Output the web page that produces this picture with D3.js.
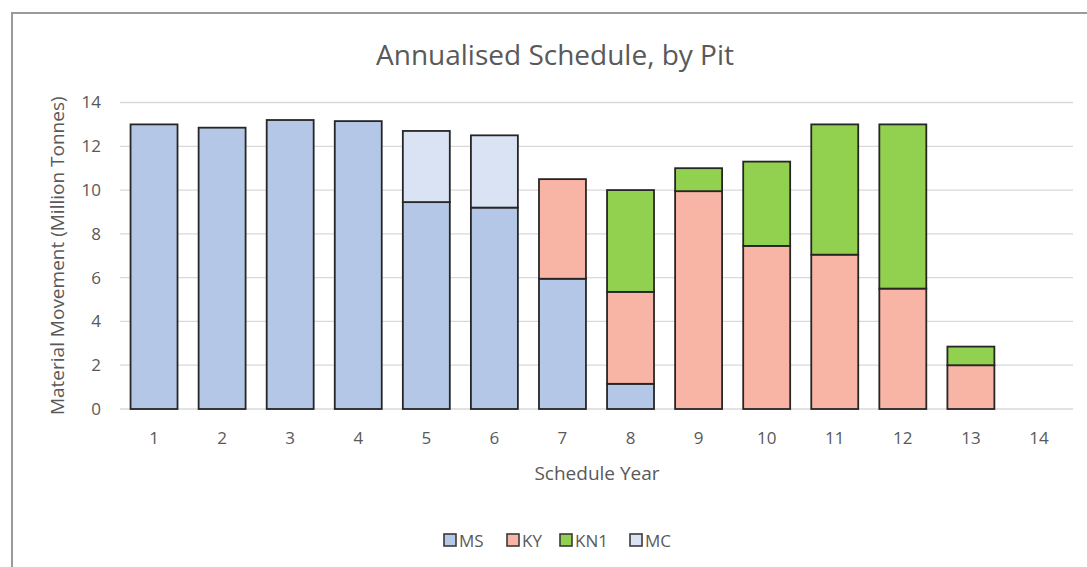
<!DOCTYPE html>
<html>
<head>
<meta charset="utf-8">
<script src="https://cdn.jsdelivr.net/npm/d3@7"></script>
<style>
  body { margin: 0; background: #fff; }
  text { font-family: "Open Sans", sans-serif; fill: #595959; }
</style>
</head>
<body>
<script>
const width = 1087;
const height = 567;

// data
const years = ["1","2","3","4","5","6","7","8","9","10","11","12","13","14"];
const pits = ["MS", "KY", "KN1", "MC"];
const msVals  = [13.0, 12.85, 13.2, 13.15, 9.45, 9.2, 5.95, 1.15, 0, 0, 0, 0, 0, 0];
const kyVals  = [0, 0, 0, 0, 0, 0, 4.55, 4.2, 9.95, 7.45, 7.05, 5.5, 2.0, 0];
const kn1Vals = [0, 0, 0, 0, 0, 0, 0, 4.65, 1.05, 3.85, 5.95, 7.5, 0.85, 0];
const mcVals  = [0, 0, 0, 0, 3.25, 3.3, 0, 0, 0, 0, 0, 0, 0, 0];
const yTicks = [0, 2, 4, 6, 8, 10, 12, 14];
const colors = ["#b4c7e7", "#f8b4a4", "#92d050", "#dae3f3"];

const rows = years.map((y, i) => ({
  year: y, MS: msVals[i], KY: kyVals[i], KN1: kn1Vals[i], MC: mcVals[i]
}));

const margin = {left: 120, right: 14, top: 102.5, bottom: 158};

const svg = d3.select("body")
  .append("svg")
  .attr("width", width)
  .attr("height", height);

// chart frame
svg.append("rect")
  .attr("x", 12)
  .attr("y", 13)
  .attr("width", 1100)
  .attr("height", 600)
  .attr("fill", "#fff")
  .attr("stroke", "#9a9a9a")
  .attr("stroke-width", 2);

const x = d3.scaleBand()
  .domain(years)
  .range([margin.left, width - margin.right])
  .paddingInner(0.31)
  .paddingOuter(0.155);

const y = d3.scaleLinear()
  .domain([0, 14])
  .range([height - margin.bottom, margin.top]);

const color = d3.scaleOrdinal().domain(pits).range(colors);

// gridlines
svg.append("g")
  .selectAll("line")
  .data(yTicks)
  .enter()
  .append("line")
  .attr("x1", margin.left)
  .attr("x2", width - margin.right)
  .attr("y1", d => y(d))
  .attr("y2", d => y(d))
  .attr("stroke", "#d9d9d9")
  .attr("stroke-width", 1.3);

// y axis labels
const yAxis = d3.axisLeft(y).tickValues(yTicks).tickSize(0).tickPadding(0);
const gy = svg.append("g")
  .attr("transform", "translate(101,0)")
  .call(yAxis);
gy.select(".domain").remove();
gy.selectAll("text")
  .style("font-size", "17px")
  .style("font-family", "Open Sans, sans-serif")
  .attr("fill", "#595959");

// x axis labels
const xAxis = d3.axisBottom(x).tickSize(0).tickPadding(0);
const gx = svg.append("g")
  .attr("transform", "translate(0," + (y(0) + 23) + ")")
  .call(xAxis);
gx.select(".domain").remove();
gx.selectAll("text")
  .style("font-size", "17px")
  .style("font-family", "Open Sans, sans-serif")
  .attr("fill", "#595959");

// stacked bars
const series = d3.stack().keys(pits)(rows);

svg.append("g")
  .selectAll("g")
  .data(series)
  .enter()
  .append("g")
  .attr("fill", d => color(d.key))
  .selectAll("rect")
  .data(d => d.filter(s => s[1] - s[0] > 0))
  .enter()
  .append("rect")
  .attr("x", d => x(d.data.year))
  .attr("width", x.bandwidth())
  .attr("y", d => y(d[1]))
  .attr("height", d => y(d[0]) - y(d[1]))
  .attr("stroke", "#262626")
  .attr("stroke-width", 1.8);

// titles
svg.append("text")
  .attr("x", 555)
  .attr("y", 65)
  .attr("text-anchor", "middle")
  .style("font-size", "28px")
  .text("Annualised Schedule, by Pit");

svg.append("text")
  .attr("x", 597)
  .attr("y", 480)
  .attr("text-anchor", "middle")
  .style("font-size", "19px")
  .text("Schedule Year");

svg.append("text")
  .attr("transform", "translate(64," + y(7) + ") rotate(-90)")
  .attr("text-anchor", "middle")
  .style("font-size", "19px")
  .text("Material Movement (Million Tonnes)");

// legend
const legendX = [444, 507, 560, 630];
const legend = svg.append("g")
  .selectAll("g")
  .data(pits)
  .enter()
  .append("g")
  .attr("transform", (d, i) => "translate(" + legendX[i] + ",534)");

legend.append("rect")
  .attr("width", 12)
  .attr("height", 12)
  .attr("fill", d => color(d))
  .attr("stroke", "#3a3a3a")
  .attr("stroke-width", 1.6);

legend.append("text")
  .attr("x", 15)
  .attr("y", 13)
  .style("font-size", "17px")
  .text(d => d);
</script>
</body>
</html>
